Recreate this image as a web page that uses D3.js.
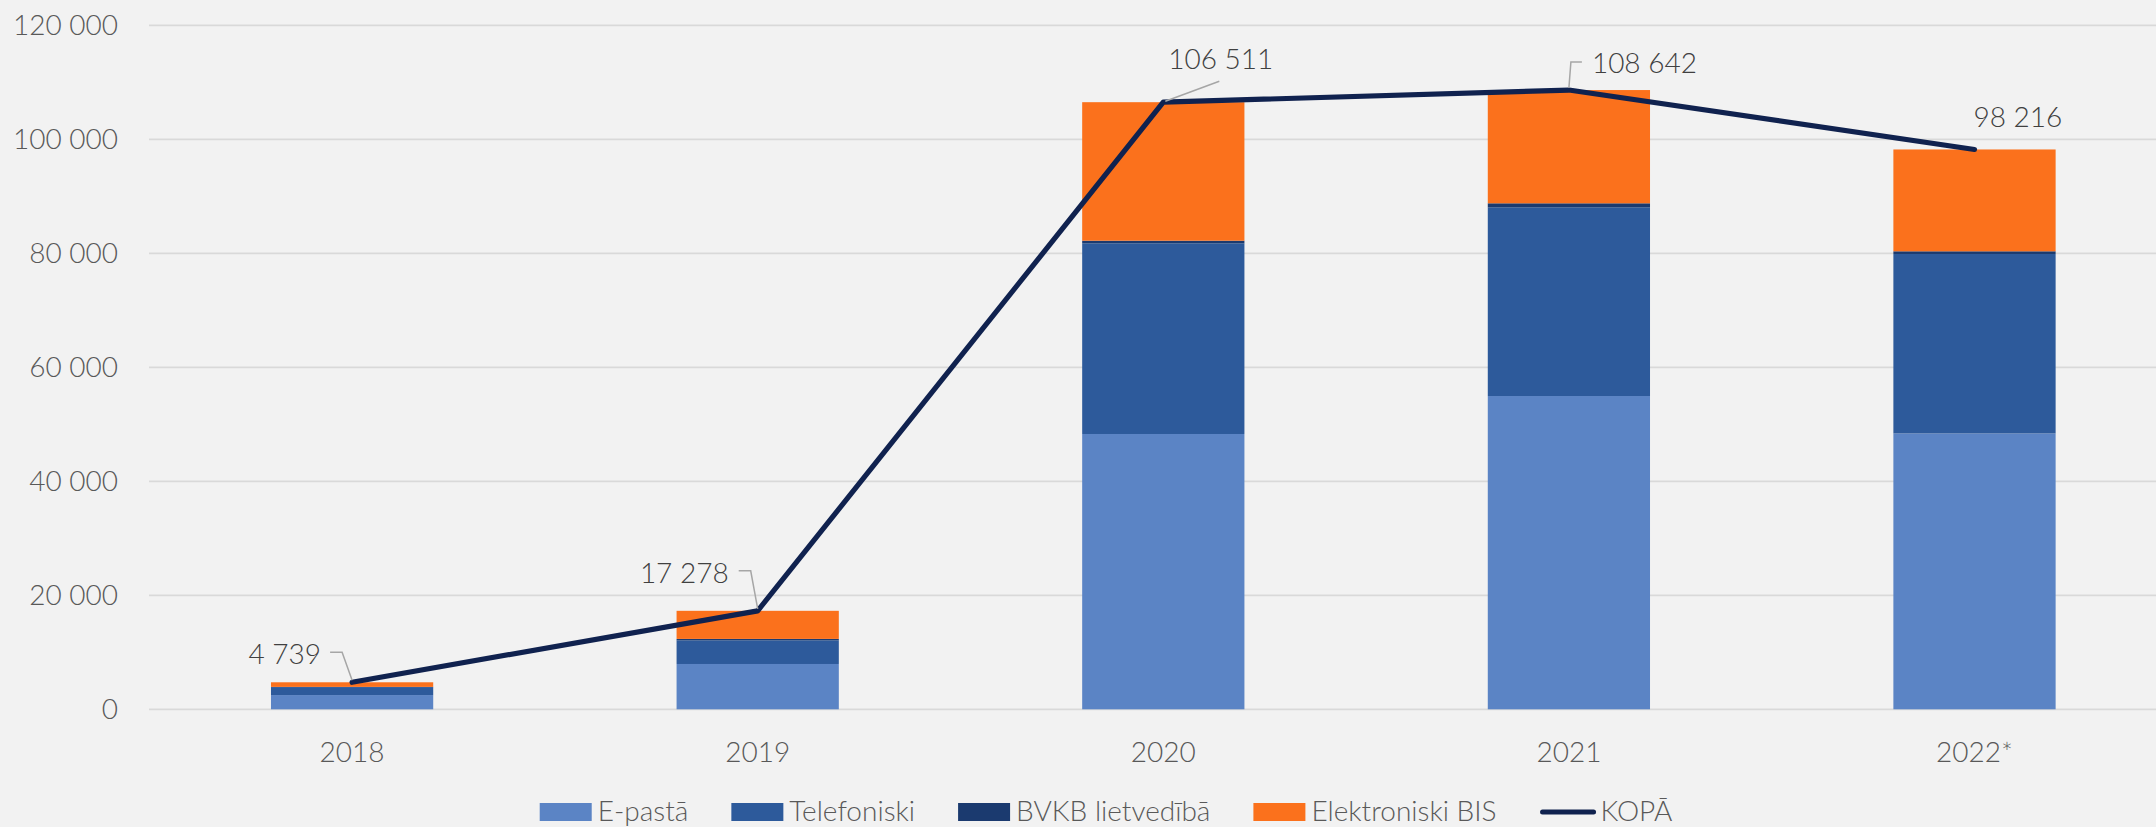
<!DOCTYPE html>
<html>
<head>
<meta charset="utf-8">
<script src="https://cdn.jsdelivr.net/npm/d3@7"></script>
<style>
  html, body { margin: 0; padding: 0; background: #f2f2f2; }
  svg { display: block; font-family: "Lato", "Open Sans", sans-serif; font-weight: 300; }
</style>
</head>
<body>
<svg id="chart" width="2156" height="827"></svg>
<script>
'use strict';

// data
var years = ["2018", "2019", "2020", "2021", "2022*"];
var ePasta = [2500, 7950, 48300, 54960, 48400];
var telefoniski = [1400, 4150, 33450, 33110, 31480];
var bvkb = [30, 250, 460, 700, 470];
var elektroniskiBIS = [809, 4928, 24301, 19872, 17866];
var kopa = [4739, 17278, 106511, 108642, 98216];

var seriesNames = ["E-pastā", "Telefoniski", "BVKB lietvedībā", "Elektroniski BIS"];
var seriesValues = [ePasta, telefoniski, bvkb, elektroniskiBIS];
var lineName = "KOPĀ";

var colors = ["#5b84c5", "#2d5a9b", "#1b3a6f", "#fb711c"];
var lineColor = "#10224f";

var rows = years.map(function(y, i){
    var r = {year: y};
    seriesNames.forEach(function(s, k){ r[s] = seriesValues[k][i]; });
    return r;
});

var svg = d3.select("#chart"),
    width = +svg.attr("width"),
    height = +svg.attr("height");

var x = d3.scaleBand()
    .domain(years)
    .range([149.3, 2177.3])
    .paddingInner(0.6)
    .paddingOuter(0.3);

var y = d3.scaleLinear()
    .domain([0, 120000])
    .range([709.3, 25.3]);

var fmt = d3.formatLocale({decimal: ",", thousands: " ", grouping: [3], currency: ["", ""]}).format(",d");

// gridlines
svg.append("g")
    .selectAll("line")
    .data(y.ticks(6))
    .enter()
    .append("line")
    .attr("x1", 149)
    .attr("x2", width)
    .attr("y1", function(d){ return y(d); })
    .attr("y2", function(d){ return y(d); })
    .attr("stroke", "#d9d9d9")
    .attr("stroke-width", 1.8);

// y tick labels
svg.append("g")
    .selectAll("text")
    .data(y.ticks(6))
    .enter()
    .append("text")
    .attr("x", 118)
    .attr("y", function(d){ return y(d); })
    .attr("dy", "0.36em")
    .attr("text-anchor", "end")
    .attr("font-size", 28)
    .attr("fill", "#595959")
    .text(function(d){ return fmt(d); });

// x labels
svg.append("g")
    .selectAll("text")
    .data(years)
    .enter()
    .append("text")
    .attr("x", function(d){ return x(d) + x.bandwidth() / 2; })
    .attr("y", 762)
    .attr("text-anchor", "middle")
    .attr("font-size", 28)
    .attr("fill", "#595959")
    .text(function(d){ return d; });

// stacked bars
var stacked = d3.stack().keys(seriesNames)(rows);
svg.append("g")
    .selectAll("g")
    .data(stacked)
    .enter()
    .append("g")
    .attr("fill", function(d, i){ return colors[i]; })
    .selectAll("rect")
    .data(function(d){ return d; })
    .enter()
    .append("rect")
    .attr("x", function(d){ return x(d.data.year); })
    .attr("width", x.bandwidth())
    .attr("y", function(d){ return y(d[1]); })
    .attr("height", function(d){ return y(d[0]) - y(d[1]); });

// total line
var pts = years.map(function(yr, i){
    return [x(yr) + x.bandwidth() / 2, y(kopa[i]), kopa[i]];
});
svg.append("path")
    .datum(pts)
    .attr("d", d3.line())
    .attr("fill", "none")
    .attr("stroke", lineColor)
    .attr("stroke-width", 5.2)
    .attr("stroke-linejoin", "round")
    .attr("stroke-linecap", "round");

// data labels with leader lines (offsets from the point)
var placement = [
    {dx: -31, dy: -28, anchor: "end",   leader: [[0, -2], [-10, -30], [-22, -30]]},
    {dx: -29, dy: -38, anchor: "end",   leader: [[0, -2], [-7, -40], [-19, -40]]},
    {dx: 5,   dy: -43, anchor: "start", leader: [[2, -1], [56, -21]]},
    {dx: 23,  dy: -27, anchor: "start", leader: [[0, -2], [2, -28], [13, -28]]},
    {dx: -1,  dy: -33, anchor: "start", leader: null}
];

var labels = svg.append("g");
pts.forEach(function(p, i){
    var pl = placement[i];
    if (pl.leader){
        labels.append("path")
            .attr("d", d3.line()(pl.leader.map(function(o){ return [p[0] + o[0], p[1] + o[1]]; })))
            .attr("fill", "none")
            .attr("stroke", "#a6a6a6")
            .attr("stroke-width", 1.5);
    }
    labels.append("text")
        .attr("x", p[0] + pl.dx)
        .attr("y", p[1] + pl.dy)
        .attr("dy", "0.36em")
        .attr("text-anchor", pl.anchor)
        .attr("font-size", 28)
        .attr("fill", "#404040")
        .text(fmt(p[2]));
});

// legend
var legendItems = seriesNames.map(function(s, i){ return {name: s, color: colors[i], type: "rect"}; });
legendItems.push({name: lineName, color: lineColor, type: "line"});

var legend = svg.append("g");
var items = legend.selectAll("g")
    .data(legendItems)
    .enter()
    .append("g");

items.each(function(d){
    var g = d3.select(this);
    if (d.type == "rect"){
        g.append("rect")
            .attr("x", 0).attr("y", 803)
            .attr("width", 52).attr("height", 18)
            .attr("fill", d.color);
        d.tx = 58;
    } else {
        g.append("line")
            .attr("x1", 3).attr("x2", 54)
            .attr("y1", 812).attr("y2", 812)
            .attr("stroke", d.color)
            .attr("stroke-width", 5)
            .attr("stroke-linecap", "round");
        d.tx = 61;
    }
    var t = g.append("text")
        .attr("x", d.tx)
        .attr("y", 821)
        .attr("font-size", 28)
        .attr("fill", "#595959")
        .text(d.name);
    d.w = d.tx + t.node().getComputedTextLength();
});

var gap = 43;
var total = d3.sum(legendItems, function(d){ return d.w; }) + gap * (legendItems.length - 1);
var cx = 1106 - total / 2;
items.attr("transform", function(d){
    var t = "translate(" + cx + ",0)";
    cx += d.w + gap;
    return t;
});
</script>
</body>
</html>
